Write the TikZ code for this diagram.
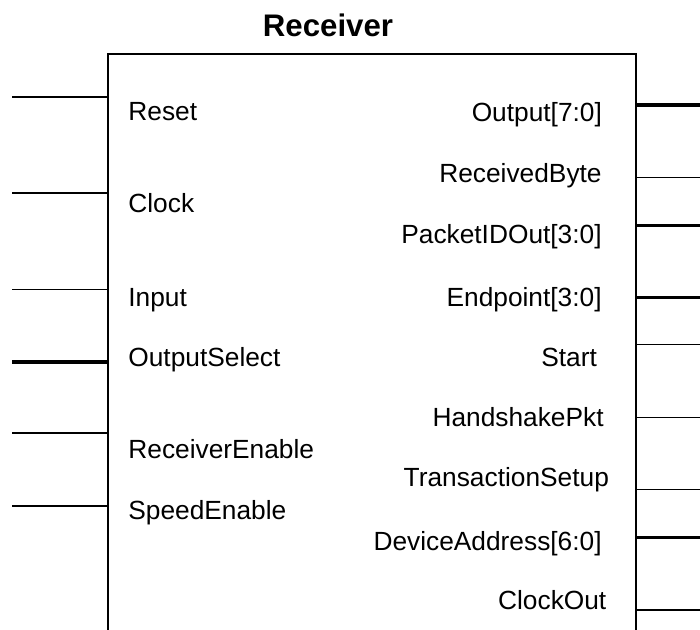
\documentclass[tikz,border=0pt]{standalone}
\usepackage{fontspec}
\setmainfont{Liberation Sans}
\usetikzlibrary{positioning}

\begin{document}
\begin{tikzpicture}[
        x=0.5pt, y=-0.5pt,
        blk/.style={rectangle, draw, line width=1pt, inner sep=0pt,
                    minimum width=264pt, minimum height=313pt},
        sig/.style={line width=0.65pt},
        bus/.style={line width=1.75pt},
        pin/.style={inner sep=0pt, font=\fontsize{13.15}{15}\selectfont},
        ttl/.style={inner sep=0pt, font=\fontsize{15.6}{18}\selectfont\bfseries}
    ]
    \useasboundingbox (0,0) rectangle (700,629);

    % block, open past the bottom of the page
    \node[blk] (rx) at (372,367) {};
    \node[ttl, anchor=base] (title) at (328,36.5) {Receiver};

    % inputs
    \coordinate (reset) at (12,97);
    \coordinate (clock) at (12,193);
    \coordinate (input) at (12,289.5);
    \coordinate (outsel) at (12,362);
    \coordinate (rxen) at (12,433);
    \coordinate (speeden) at (12,506);
    \draw[sig] (reset) -- (reset -| rx.west);
    \draw[sig] (clock) -- (clock -| rx.west);
    \draw[sig] (input) -- (input -| rx.west);
    \draw[bus] (outsel) -- (outsel -| rx.west);
    \draw[sig] (rxen) -- (rxen -| rx.west);
    \draw[sig] (speeden) -- (speeden -| rx.west);
    \node[pin, anchor=base west] (resetlbl) at (128,120.5) {Reset};
    \node[pin, anchor=base west] (clocklbl) at (128,212.7) {Clock};
    \node[pin, anchor=base west] (inputlbl) at (128,306) {Input};
    \node[pin, anchor=base west] (outsellbl) at (128,366) {OutputSelect};
    \node[pin, anchor=base west] (rxenlbl) at (128,458) {ReceiverEnable};
    \node[pin, anchor=base west] (speedenlbl) at (128,519.3) {SpeedEnable};

    % outputs
    \coordinate (dout) at (700,105);
    \coordinate (rxbyte) at (700,177.7);
    \coordinate (pid) at (700,225.7);
    \coordinate (endpt) at (700,297.7);
    \coordinate (start) at (700,344.3);
    \coordinate (hshake) at (700,417.3);
    \coordinate (tsetup) at (700,489.3);
    \coordinate (devaddr) at (700,537.7);
    \coordinate (clkout) at (700,610);
    \draw[bus] (dout -| rx.east) -- (dout);
    \draw[sig] (rxbyte -| rx.east) -- (rxbyte);
    \draw[bus] (pid -| rx.east) -- (pid);
    \draw[bus] (endpt -| rx.east) -- (endpt);
    \draw[sig] (start -| rx.east) -- (start);
    \draw[sig] (hshake -| rx.east) -- (hshake);
    \draw[sig] (tsetup -| rx.east) -- (tsetup);
    \draw[bus] (devaddr -| rx.east) -- (devaddr);
    \draw[sig] (clkout -| rx.east) -- (clkout);
    \node[pin, anchor=base east] (doutlbl) at (602.3,121.7) {Output[7:0]};
    \node[pin, anchor=base east] (rxbytelbl) at (602,182.7) {ReceivedByte};
    \node[pin, anchor=base east] (pidlbl) at (602,243.3) {PacketIDOut[3:0]};
    \node[pin, anchor=base east] (endptlbl) at (602,306.7) {Endpoint[3:0]};
    \node[pin, anchor=base east] (startlbl) at (597.3,366) {Start};
    \node[pin, anchor=base east] (hshakelbl) at (604,426.7) {HandshakePkt};
    \node[pin, anchor=base east] (tsetuplbl) at (609.3,486.7) {TransactionSetup};
    \node[pin, anchor=base east] (devaddrlbl) at (602,550) {DeviceAddress[6:0]};
    \node[pin, anchor=base east] (clkoutlbl) at (606.7,609) {ClockOut};
\end{tikzpicture}
\end{document}
